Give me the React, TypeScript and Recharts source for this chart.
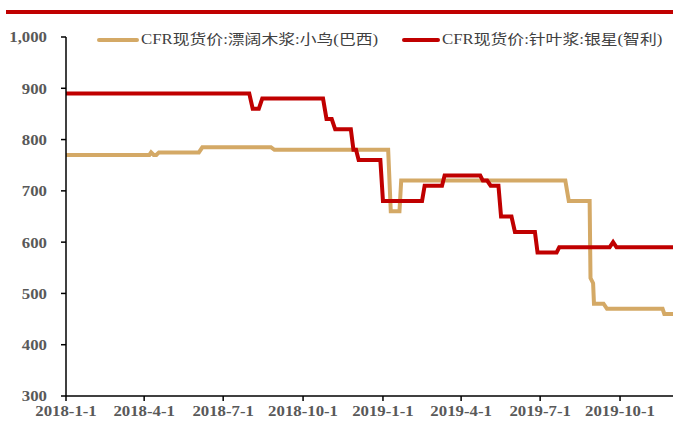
import { LineChart, Line, XAxis, YAxis } from 'recharts'

// days counted from 2018-1-1
const tickDays = [0, 90, 181, 273, 365, 455, 546, 638]
const tickLabels = ['2018-1-1', '2018-4-1', '2018-7-1', '2018-10-1', '2019-1-1', '2019-4-1', '2019-7-1', '2019-10-1']
const yTicks = [300, 400, 500, 600, 700, 800, 900, 1000]

const seriesNames = ['CFR现货价:漂阔木浆:小鸟(巴西)', 'CFR现货价:针叶浆:银星(智利)']
const seriesColors = ['#D4A966', '#C00000']

// [day, USD/t]
const hardwood: [number, number][] = [
  [0, 770], [96, 770], [98, 775], [101, 770], [104, 770], [107, 775], [153, 775], [157, 785],
  [236, 785], [240, 780], [371, 780], [374, 660], [384, 660], [386, 720], [575, 720], [579, 680],
  [603, 680], [604, 530], [607, 520], [608, 480], [619, 480], [623, 470], [687, 470], [689, 460],
  [699, 460],
]
const softwood: [number, number][] = [
  [0, 890], [211, 890], [215, 860], [222, 860], [226, 880], [296, 880], [300, 840], [306, 840],
  [310, 820], [328, 820], [331, 780], [334, 780], [337, 760], [362, 760], [365, 680], [410, 680],
  [413, 710], [433, 710], [436, 730], [477, 730], [480, 720], [485, 720], [489, 710], [498, 710],
  [501, 650], [513, 650], [517, 620], [540, 620], [543, 580], [565, 580], [568, 590], [626, 590],
  [630, 600], [634, 590], [699, 590],
]

const toRows = (pts: [number, number][]) => pts.map(([day, value]) => ({ day, value }))

const font = '"Liberation Serif", "Times New Roman", "Noto Sans CJK SC", serif'
// the source picture is a little stretched sideways
const stretch = 1.12

function XTick({ x, y, payload }: any) {
  return (
    <text
      transform={`translate(${x},${y}) scale(${stretch},1)`}
      textAnchor="middle"
      dy="0.72em"
      fill="#595959"
      fontSize={15}
      fontWeight={700}
      fontFamily={font}
    >
      {tickLabels[tickDays.indexOf(payload.value)]}
    </text>
  )
}

function YTick({ x, y, payload }: any) {
  return (
    <text
      transform={`translate(${x},${y}) scale(${stretch},1)`}
      textAnchor="end"
      dy="0.36em"
      fill="#595959"
      fontSize={15}
      fontWeight={700}
      fontFamily={font}
    >
      {payload.value.toLocaleString('en-US')}
    </text>
  )
}

export default function App() {
  return (
    <div style={{ position: 'absolute', left: 0, top: 0, width: 673, height: 424, background: '#fff', fontFamily: font }}>
      <div style={{ position: 'absolute', left: 6, top: 10, width: 667, height: 4, background: '#C00000' }} />
      <LineChart width={673} height={424} margin={{ top: 37, right: 0, bottom: 0, left: 0 }}>
        <XAxis
          type="number"
          dataKey="day"
          domain={[0, 699]}
          ticks={tickDays}
          interval={0}
          height={28}
          tickSize={5}
          tickMargin={4}
          stroke="#000"
          strokeWidth={1.5}
          tick={<XTick />}
          allowDataOverflow
        />
        <YAxis
          domain={[300, 1000]}
          ticks={yTicks}
          width={66}
          tickSize={5}
          tickMargin={14}
          stroke="#000"
          strokeWidth={1.5}
          tick={<YTick />}
        />
        <Line data={toRows(hardwood)} dataKey="value" stroke={seriesColors[0]} strokeWidth={4} dot={false} isAnimationActive={false} />
        <Line data={toRows(softwood)} dataKey="value" stroke={seriesColors[1]} strokeWidth={4} dot={false} isAnimationActive={false} />
      </LineChart>
      {seriesNames.map((name, i) => (
        <div
          key={name}
          style={{ position: 'absolute', top: 30, left: i === 0 ? 97 : 402, display: 'flex', alignItems: 'center', whiteSpace: 'nowrap' }}
        >
          <span style={{ display: 'inline-block', width: i === 0 ? 42 : 38, height: 4, background: seriesColors[i], borderRadius: 2 }} />
          <span
            style={{
              marginLeft: 2,
              fontSize: 14,
              color: '#404040',
              lineHeight: '20px',
              display: 'inline-block',
              transform: 'scaleX(1.2)',
              transformOrigin: 'left center',
            }}
          >
            {name}
          </span>
        </div>
      ))}
    </div>
  )
}
